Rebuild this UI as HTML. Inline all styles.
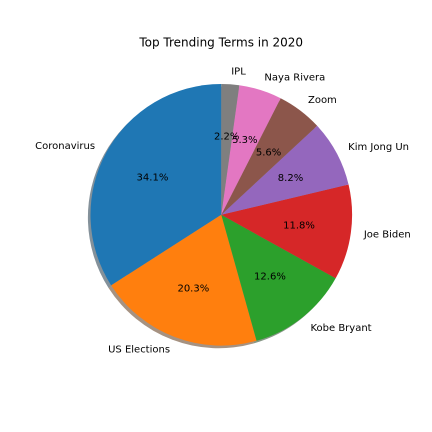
<!DOCTYPE html>
<html>
<head>
<meta charset="utf-8">
<title>Top Trending Terms in 2020</title>
<style>
html,body{margin:0;padding:0;background:#fff;width:432px;height:432px;overflow:hidden}
svg{display:block}
text{font-family:"DejaVu Sans",sans-serif;fill:#000}
</style>
</head>
<body>
<svg id="chart" width="432" height="432" viewBox="0 0 432 432" xmlns="http://www.w3.org/2000/svg">
<text x="221.2" y="46.4" font-size="12" text-anchor="middle">Top Trending Terms in 2020</text>
</svg>
<script>
const categories = ["Coronavirus","US Elections","Kobe Bryant","Joe Biden","Kim Jong Un","Zoom","Naya Rivera","IPL"];
const seriesValues = [34.1,20.3,12.6,11.8,8.2,5.6,5.3,2.2];
const percentLabels = ["34.1%","20.3%","12.6%","11.8%","8.2%","5.6%","5.3%","2.2%"];
const colors = ["#1f77b4","#ff7f0e","#2ca02c","#d62728","#9467bd","#8c564b","#e377c2","#7f7f7f"];

const NS = "http://www.w3.org/2000/svg";
const svg = document.getElementById("chart");
const cx = 221.3, cy = 214.8, R = 130.8;
const total = seriesValues.reduce((a, b) => a + b, 0);

function angleOf(cum) { return Math.PI / 2 + (cum / total) * 2 * Math.PI; }
function px(a, r, ox) { return cx + (ox || 0) + r * Math.cos(a); }
function py(a, r, oy) { return cy + (oy || 0) - r * Math.sin(a); }
function wedgePath(a0, a1, ox, oy) {
  const large = (a1 - a0) > Math.PI ? 1 : 0;
  return "M" + (cx + ox) + " " + (cy + oy) +
    "L" + px(a0, R, ox) + " " + py(a0, R, oy) +
    "A" + R + " " + R + " 0 " + large + " 0 " + px(a1, R, ox) + " " + py(a1, R, oy) + "Z";
}
function shade(hex) {
  const n = parseInt(hex.slice(1), 16);
  return "rgb(" + Math.round(((n >> 16) & 255) * 0.3) + "," + Math.round(((n >> 8) & 255) * 0.3) + "," + Math.round((n & 255) * 0.3) + ")";
}

let cum = 0;
const shadows = document.createElementNS(NS, "g");


const wedges = document.createElementNS(NS, "g");


const labels = document.createElementNS(NS, "g");


svg.appendChild(shadows);
svg.appendChild(wedges);
svg.appendChild(labels);

seriesValues.forEach(function (v, i) {
  const a0 = angleOf(cum);
  cum += v;
  const a1 = angleOf(cum);
  const mid = (a0 + a1) / 2;

  const s = document.createElementNS(NS, "path");
  s.setAttribute("d", wedgePath(a0, a1, -2.6, 2.6));
  s.setAttribute("fill", shade(colors[i]));
  s.setAttribute("fill-opacity", "0.5");
  
  
  shadows.appendChild(s);

  const w = document.createElementNS(NS, "path");
  w.setAttribute("d", wedgePath(a0, a1, 0, 0));
  w.setAttribute("fill", colors[i]);
  
  
  wedges.appendChild(w);

  const t = document.createElementNS(NS, "text");
  t.setAttribute("x", px(mid, R * 1.1));
  t.setAttribute("y", py(mid, R * 1.1) + 3.2);
  t.setAttribute("font-size", "10");
  t.setAttribute("text-anchor", Math.cos(mid) > 0 ? "start" : "end");
  t.textContent = categories[i];
  
  
  labels.appendChild(t);

  const p = document.createElementNS(NS, "text");
  p.setAttribute("x", px(mid, R * 0.6));
  p.setAttribute("y", py(mid, R * 0.6) + 3.2);
  p.setAttribute("font-size", "10");
  p.setAttribute("text-anchor", "middle");
  p.textContent = percentLabels[i];
  
  
  labels.appendChild(p);
});
</script>
</body>
</html>
